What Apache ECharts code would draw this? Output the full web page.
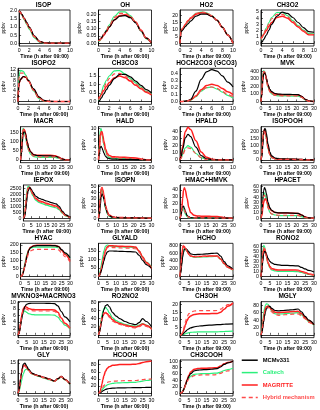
<!DOCTYPE html>
<html>
<head>
<meta charset="utf-8">
<script src="https://cdn.jsdelivr.net/npm/echarts@6/dist/echarts.min.js"></script>
<style>
html, body { margin: 0; padding: 0; background: #fff; }
#chart { width: 320px; height: 410px; }
</style>
</head>
<body>
<div id="chart"></div>
<script>
// time axes (h after 09:00)
const hours10 = [0, 0.2, 0.5, 1, 1.5, 2, 3, 4, 5, 6, 7, 8, 9, 10];
const hours30 = [0, 0.5, 1, 1.5, 2, 2.5, 3, 4, 5, 6, 8, 10, 12, 15, 18, 21, 23, 25, 27, 30];

const seriesNames = ['MCMv331', 'Caltech', 'MAGRITTE', 'Hybrid mechanism'];
const seriesColors = ['#000000', '#2cf07c', '#ff1f1f', '#ff4a4a'];

const panelNames = [
  'ISOP', 'OH', 'HO2', 'CH3O2',
  'ISOPO2', 'CH3CO3', 'HOCH2CO3 (GCO3)', 'MVK',
  'MACR', 'HALD', 'HPALD', 'ISOPOOH',
  'IEPOX', 'ISOPN', 'HMAC+HMVK', 'HPACET',
  'HYAC', 'GLYALD', 'HCHO', 'RONO2',
  'MVKNO3+MACRNO3', 'RO2NO2', 'CH3OH', 'MGLY',
  'GLY', 'HCOOH', 'CH3COOH'
];
const yMax = [2.05, 0.228, 24, 5.3, 12.6, 1.95, 0.48, 440, 185, 10.6, 47, 235, 2800, 52, 47, 63,
  210, 195, 850, 66, 10.3, 82, 22, 90, 16.5, 93, 104];
const yStep = [0.5, 0.05, 5, 1, 2, 0.5, 0.1, 100, 50, 2, 10, 50, 500, 10, 10, 10,
  50, 50, 200, 10, 2, 20, 5, 20, 5, 20, 20];
const yDecimals = [1, 2, 0, 0, 0, 1, 1, 0, 0, 0, 0, 0, 0, 0, 0, 0,
  0, 0, 0, 0, 0, 0, 0, 0, 0, 0, 0];

// each: [MCMv331, Caltech, MAGRITTE, Hybrid]
const isop = [
  [2.0, 1.92, 1.8, 1.55, 1.28, 1.0, 0.45, 0.12, 0.03, 0.01, 0, 0, 0, 0],
  [2.0, 1.9, 1.75, 1.45, 1.15, 0.85, 0.33, 0.07, 0.01, 0, 0, 0, 0, 0],
  [2.0, 1.92, 1.79, 1.52, 1.24, 0.95, 0.42, 0.11, 0.02, 0, 0, 0, 0, 0],
  [2.0, 1.91, 1.78, 1.5, 1.22, 0.93, 0.4, 0.1, 0.02, 0, 0, 0, 0, 0]
];
const oh = [
  [0.02, 0.025, 0.035, 0.06, 0.085, 0.11, 0.16, 0.185, 0.19, 0.175, 0.14, 0.085, 0.035, 0.0],
  [0.01, 0.015, 0.03, 0.06, 0.09, 0.125, 0.185, 0.215, 0.215, 0.19, 0.145, 0.085, 0.03, 0.0],
  [0.015, 0.02, 0.03, 0.055, 0.08, 0.11, 0.16, 0.19, 0.195, 0.18, 0.145, 0.09, 0.035, 0.0],
  [0.015, 0.02, 0.035, 0.06, 0.09, 0.12, 0.175, 0.205, 0.205, 0.185, 0.145, 0.088, 0.033, 0.0]
];
const ho2 = [
  [0, 8, 9.5, 12, 14, 16, 19.5, 21, 21, 19.5, 16.5, 11.5, 6, 0],
  [0, 9, 10.5, 13, 15.5, 18, 21.5, 22.5, 22, 20, 16.5, 11.5, 6, 0],
  [0, 9, 10.5, 13.5, 16, 18, 21, 22, 21.5, 19.5, 16.5, 11.5, 6, 0],
  [0, 9, 10.8, 13.8, 16.5, 18.5, 21.5, 22.5, 22, 20, 16.5, 11.5, 6, 0]
];
const ch3o2 = [
  [0, 0.2, 0.6, 1.3, 2.1, 3.0, 4.3, 4.95, 4.75, 4.1, 3.3, 2.5, 1.85, 1.75],
  [0.5, 0.9, 1.5, 2.4, 3.3, 4.1, 4.9, 4.9, 4.4, 3.6, 2.8, 2.1, 1.55, 1.5],
  [0.8, 1.0, 1.4, 2.0, 2.7, 3.3, 4.1, 4.3, 4.0, 3.3, 2.6, 1.9, 1.35, 1.35],
  [0.6, 0.9, 1.5, 2.3, 3.1, 3.9, 4.6, 4.6, 4.2, 3.5, 2.7, 2.0, 1.4, 1.4]
];
const isopo2 = [
  [0, 7, 8.5, 9.5, 9.3, 8.0, 4.8, 1.8, 0.4, 0.05, 0, 0, 0, 0],
  [0, 10, 11.8, 11.5, 10, 8.0, 4.0, 1.2, 0.2, 0, 0, 0, 0, 0],
  [0, 7, 8.4, 9.4, 9.2, 7.8, 4.6, 1.6, 0.3, 0.05, 0, 0, 0, 0],
  [0, 9, 10.8, 10.8, 9.5, 7.9, 4.2, 1.3, 0.25, 0, 0, 0, 0, 0]
];
const ch3co3 = [
  [0, 0.05, 0.2, 0.45, 0.7, 0.95, 1.35, 1.6, 1.6, 1.45, 1.2, 0.95, 0.7, 0.5],
  [0.05, 0.2, 0.5, 0.95, 1.25, 1.5, 1.8, 1.82, 1.62, 1.35, 1.1, 0.85, 0.6, 0.45],
  [0.2, 0.25, 0.4, 0.65, 0.88, 1.1, 1.4, 1.5, 1.4, 1.2, 0.95, 0.75, 0.55, 0.38],
  [0.1, 0.2, 0.45, 0.8, 1.1, 1.35, 1.62, 1.65, 1.5, 1.28, 1.02, 0.8, 0.58, 0.42]
];
const gco3 = [
  [0, 0, 0, 0.005, 0.012, 0.03, 0.15, 0.32, 0.43, 0.46, 0.44, 0.37, 0.28, 0.21],
  [0, 0, 0, 0.003, 0.008, 0.02, 0.07, 0.15, 0.2, 0.21, 0.18, 0.135, 0.09, 0.05],
  [0, 0, 0, 0.004, 0.01, 0.025, 0.08, 0.17, 0.23, 0.25, 0.23, 0.19, 0.14, 0.1],
  [0, 0, 0, 0.004, 0.01, 0.025, 0.08, 0.155, 0.2, 0.21, 0.19, 0.145, 0.1, 0.07]
];
const mvk = [
  [0, 100, 280, 370, 385, 360, 310, 220, 160, 130, 105, 98, 96, 95, 93, 90, 70, 30, 8, 0],
  [0, 150, 350, 410, 400, 350, 290, 190, 130, 100, 80, 75, 74, 73, 72, 70, 55, 22, 5, 0],
  [0, 110, 300, 385, 390, 360, 305, 210, 150, 120, 98, 92, 90, 90, 89, 87, 68, 28, 7, 0],
  [0, 130, 330, 400, 390, 345, 285, 185, 128, 100, 82, 77, 76, 75, 74, 72, 56, 22, 5, 0]
];
const macr = [
  [0, 30, 90, 140, 160, 158, 145, 100, 65, 45, 28, 24, 23, 22, 22, 20, 14, 5, 1, 0],
  [0, 60, 140, 175, 170, 150, 125, 80, 50, 32, 18, 15, 14, 14, 14, 13, 9, 3, 0.5, 0],
  [0, 40, 110, 160, 170, 165, 150, 100, 65, 45, 29, 26, 25, 25, 25, 23, 16, 6, 1, 0],
  [0, 50, 125, 165, 165, 150, 128, 82, 52, 35, 21, 18, 17, 17, 17, 16, 11, 4, 0.5, 0]
];
const hald = [
  [0, 2, 4, 4.3, 3.8, 3, 2.2, 1.1, 0.6, 0.4, 0.25, 0.2, 0.18, 0.15, 0.12, 0.1, 0.06, 0.02, 0, 0],
  [0, 5, 9.5, 10, 8.5, 6.5, 4.8, 2.5, 1.3, 0.8, 0.5, 0.4, 0.35, 0.3, 0.28, 0.25, 0.15, 0.05, 0, 0],
  [0, 3.5, 7.5, 9, 9, 7.8, 6, 3.5, 2.0, 1.4, 1.0, 0.9, 0.85, 0.8, 0.7, 0.6, 0.4, 0.15, 0.03, 0],
  [0, 4, 8, 8.8, 8, 6.5, 5, 2.8, 1.6, 1.1, 0.75, 0.65, 0.6, 0.55, 0.5, 0.45, 0.3, 0.1, 0.02, 0]
];
const hpald = [
  [0, 4, 15, 31, 36, 33, 18, 6, 1.5, 0.3, 0, 0, 0, 0],
  [0, 2, 8, 17, 20, 18, 9, 3, 0.7, 0.1, 0, 0, 0, 0],
  [0, 5, 19, 40, 46, 43, 27, 11, 3.5, 1, 0.2, 0, 0, 0],
  [0, 2, 7, 14, 17, 16, 9, 3, 0.7, 0.1, 0, 0, 0, 0]
];
const isopooh = [
  [0, 20, 100, 180, 222, 220, 190, 110, 55, 28, 12, 8, 7, 6, 5, 4, 3, 1, 0, 0],
  [0, 40, 150, 205, 210, 185, 150, 75, 35, 16, 6, 4, 3, 3, 3, 2, 1.5, 0.5, 0, 0],
  [0, 30, 130, 200, 215, 200, 165, 90, 42, 20, 8, 5, 4, 4, 3.5, 3, 2, 0.5, 0, 0],
  [0, 35, 140, 195, 200, 180, 148, 75, 35, 16, 6, 4, 3, 3, 3, 2, 1.5, 0.5, 0, 0]
];
const iepox = [
  [0, 50, 250, 700, 1300, 1900, 2300, 2600, 2450, 2200, 1850, 1680, 1580, 1450, 1320, 1200, 1000, 600, 300, 60],
  [0, 120, 600, 1400, 2100, 2500, 2700, 2550, 2200, 1900, 1500, 1330, 1230, 1100, 980, 880, 720, 420, 200, 40],
  [0, 80, 400, 1000, 1700, 2200, 2500, 2600, 2350, 2050, 1650, 1480, 1380, 1250, 1130, 1020, 850, 500, 250, 50],
  [0, 100, 480, 1150, 1850, 2300, 2550, 2600, 2300, 2000, 1600, 1420, 1320, 1190, 1070, 960, 800, 470, 230, 45]
];
const isopn = [
  [0, 5, 20, 33, 38, 36, 30, 17, 8, 4, 1.5, 0.8, 0.6, 0.5, 0.4, 0.3, 0.2, 0.1, 0, 0],
  [0, 10, 33, 45, 44, 38, 30, 15, 7, 3, 1, 0.5, 0.4, 0.3, 0.3, 0.2, 0.1, 0.05, 0, 0],
  [0, 8, 30, 45, 48, 44, 37, 20, 10, 5, 2, 1.2, 1, 0.8, 0.7, 0.6, 0.4, 0.15, 0, 0],
  [0, 10, 33, 46, 47, 42, 34, 18, 8.5, 4, 1.5, 0.8, 0.6, 0.5, 0.4, 0.3, 0.2, 0.1, 0, 0]
];
const hmac = [
  [0, 3, 10, 16, 17, 14, 10, 4, 1.5, 0.8, 0.4, 0.3, 0.3, 0.3, 0.2, 0.2, 0.1, 0.05, 0, 0],
  [0, 5, 12, 15, 13, 9, 6, 2, 0.8, 0.4, 0.2, 0.2, 0.2, 0.2, 0.2, 0.1, 0.1, 0, 0, 0],
  [0, 3, 12, 28, 40, 43, 40, 28, 15, 8, 4, 3, 2.8, 2.6, 2.5, 2.4, 1.8, 0.8, 0.2, 0],
  [0, 4, 11, 15, 15, 12, 8, 3, 1.2, 0.6, 0.3, 0.3, 0.3, 0.3, 0.2, 0.2, 0.1, 0.05, 0, 0]
];
const hpacet = [
  [0, 10, 35, 52, 58, 55, 47, 30, 20, 15, 11, 10, 10, 10, 9.5, 9, 6, 2, 0.5, 0],
  [0, 12, 35, 46, 48, 43, 36, 20, 11, 8, 6, 5, 5, 5, 5, 4.8, 3, 1, 0.2, 0],
  [0, 5, 18, 30, 36, 37, 34, 25, 18, 14, 11, 10, 10, 10, 9.5, 9, 6, 2, 0.5, 0],
  [0, 10, 30, 41, 44, 40, 33, 19, 11, 8, 6, 5.5, 5.5, 5.5, 5.4, 5.2, 3.5, 1.2, 0.3, 0]
];
const hyac = [
  [0, 2, 8, 20, 38, 60, 85, 130, 165, 182, 193, 195, 195, 195, 195, 195, 190, 170, 150, 120],
  [0, 3, 12, 28, 50, 75, 100, 145, 170, 180, 185, 186, 186, 186, 186, 186, 182, 165, 145, 115],
  [0, 2, 9, 22, 42, 65, 90, 135, 170, 185, 195, 197, 197, 197, 197, 196, 190, 165, 140, 100],
  [0, 2, 9, 22, 40, 60, 82, 122, 150, 162, 170, 172, 172, 172, 172, 172, 168, 148, 125, 92]
];
const glyald = [
  [0, 5, 15, 30, 50, 70, 90, 125, 145, 150, 150, 149, 148, 147, 146, 144, 125, 95, 70, 48],
  [0, 10, 35, 65, 95, 125, 150, 178, 185, 182, 177, 175, 174, 173, 172, 170, 150, 115, 85, 55],
  [0, 6, 20, 40, 65, 90, 115, 155, 175, 180, 180, 179, 178, 177, 176, 173, 150, 115, 82, 50],
  [0, 7, 22, 45, 70, 95, 120, 155, 170, 172, 170, 169, 168, 167, 166, 163, 142, 108, 78, 48]
];
const hcho = [
  [0, 100, 300, 500, 620, 690, 715, 690, 630, 580, 560, 565, 570, 580, 590, 600, 520, 380, 270, 180],
  [0, 150, 400, 600, 690, 700, 690, 640, 570, 520, 495, 495, 500, 505, 510, 515, 440, 320, 230, 160],
  [0, 200, 500, 720, 780, 760, 720, 650, 570, 525, 505, 510, 515, 520, 525, 525, 450, 330, 240, 170],
  [0, 220, 550, 780, 800, 770, 730, 650, 575, 530, 510, 512, 515, 520, 525, 527, 450, 330, 240, 170]
];
const rono2 = [
  [0, 10, 30, 45, 50, 49, 45, 36, 30, 27, 24, 23, 22, 22, 21.5, 21, 18, 15, 12, 9],
  [0, 20, 50, 62, 60, 50, 40, 25, 17, 13, 11, 10, 10, 10, 10, 9.5, 8, 6, 4, 2],
  [0, 15, 40, 53, 55, 50, 42, 28, 20, 16, 14, 13, 13, 13, 13, 12.5, 10, 8, 5, 3],
  [0, 17, 45, 57, 56, 48, 40, 26, 18, 14.5, 12.5, 12, 12, 12, 12, 11.5, 9.5, 7, 4.5, 2.5]
];
const mvkno3 = [
  [0, 0.3, 1.2, 2.8, 4.5, 6, 7.2, 8.8, 9.5, 9.7, 9.8, 9.8, 9.8, 9.8, 9.75, 9.7, 9.0, 7.2, 5.6, 4.0],
  [0, 0.5, 1.8, 3.5, 5.0, 6.2, 7.0, 7.4, 7.0, 6.6, 6.3, 6.2, 6.2, 6.2, 6.2, 6.1, 5.5, 4.2, 3.0, 1.8],
  [0, 0.4, 1.6, 3.5, 5.5, 7.0, 8.0, 8.8, 8.6, 8.2, 7.9, 7.8, 7.8, 7.8, 7.8, 7.7, 7.0, 5.2, 3.6, 2.0],
  [0, 0.5, 1.8, 3.6, 5.4, 6.7, 7.6, 8.2, 8.0, 7.7, 7.5, 7.4, 7.4, 7.4, 7.4, 7.3, 6.6, 5.0, 3.4, 1.9]
];
const ro2no2 = [
  [0, 5, 15, 28, 40, 52, 62, 72, 75, 70, 55, 46, 40, 33, 28, 25, 30, 40, 33, 20],
  [0, 8, 22, 38, 50, 58, 64, 68, 63, 55, 42, 35, 31, 26, 23, 21, 24, 28, 24, 15],
  [0, 6, 18, 30, 40, 47, 52, 55, 52, 47, 37, 31, 28, 24, 21, 19, 22, 27, 23, 15],
  [0, 7, 20, 33, 43, 50, 54, 55, 50, 44, 34, 29, 26, 22, 19, 17, 20, 25, 21, 13]
];
const ch3oh = [
  [0, 0, 0.1, 0.4, 0.9, 1.5, 2.1, 3.2, 4.0, 4.6, 5.3, 5.7, 6.0, 6.3, 6.5, 6.7, 6.8, 7.0, 7.1, 7.2],
  [0, 0, 0.05, 0.15, 0.3, 0.5, 0.7, 1.1, 1.4, 1.6, 1.8, 1.9, 1.9, 2.0, 2.0, 2.0, 2.1, 2.2, 2.3, 2.4],
  [0, 0, 0.3, 1.2, 2.7, 4.5, 6.5, 9.5, 11.5, 12.5, 13.5, 13.8, 14, 14, 14.1, 14.2, 15, 17, 19, 21],
  [0, 0, 0.4, 1.5, 3.5, 6, 8.5, 12, 14, 15, 15.8, 16, 16, 16, 16, 16.2, 17, 18.5, 20, 21]
];
const mgly = [
  [0, 5, 18, 35, 50, 62, 70, 77, 77, 72, 66, 65, 66, 67, 68, 70, 62, 50, 40, 28],
  [0, 12, 35, 58, 72, 80, 84, 83, 75, 65, 57, 56, 57, 58, 59, 60, 54, 45, 36, 26],
  [0, 8, 25, 45, 60, 70, 76, 78, 74, 68, 61, 60, 61, 62, 63, 64, 57, 47, 38, 27],
  [0, 8, 26, 46, 61, 70, 75, 76, 70, 62, 55, 53, 54, 55, 56, 57, 51, 43, 34, 25]
];
const gly = [
  [0, 1, 3.5, 7, 10, 12.5, 14.3, 15, 13.5, 12, 10, 9.2, 8.6, 7.8, 7, 6, 7.2, 8.3, 6.8, 4.5],
  [0, 0.5, 2, 4, 6, 8, 9.5, 11.5, 12, 11.3, 9.6, 8.9, 8.3, 7.5, 6.7, 5.8, 6.9, 8.0, 6.6, 4.3],
  [0, 1, 3.5, 7, 10, 12.2, 13.5, 14, 12.8, 11.5, 9.8, 9.1, 8.6, 7.8, 7, 6, 7.2, 8.3, 6.8, 4.5],
  [0, 1, 3.5, 7, 9.8, 12, 13.2, 13.5, 12.5, 11.3, 9.7, 9.0, 8.5, 7.7, 6.9, 5.9, 7.1, 8.2, 6.7, 4.4]
];
const hcooh = [
  [0, 0.3, 1.2, 2.8, 4.6, 6.5, 8, 10.5, 12, 13, 14, 14.5, 14.8, 15, 15.2, 15.4, 15.5, 15.8, 16, 16.2],
  [0, 0.5, 2.5, 5.5, 9, 12.5, 15.5, 20, 23, 25, 27.5, 28.5, 29, 29.5, 30, 30.5, 32, 34, 35.5, 37],
  [0, 1, 6, 15, 27, 38, 48, 62, 70, 74, 78, 79, 80, 80, 80.5, 81, 83, 86, 88, 90],
  [0, 0.7, 3, 7, 12, 17, 21, 27, 30, 32, 33.5, 34, 34.5, 35, 35, 35.5, 36.5, 38, 39, 40]
];
const ch3cooh = [
  [0, 0.5, 2, 5, 10, 17, 25, 40, 52, 61, 70, 72, 73, 74, 75, 77, 82, 90, 95, 100],
  [0, 0.5, 2, 5, 10, 17, 25, 38, 47, 53, 59, 60, 61, 61, 62, 63, 66, 71, 74, 78],
  [0, 0.5, 2, 5, 10, 17, 26, 42, 56, 66, 75, 77, 78, 78, 79, 80, 85, 92, 96, 100],
  [0, 0.5, 2, 5, 10, 16, 24, 36, 45, 50, 55, 56, 57, 57, 57, 58, 62, 67, 70, 73]
];

const panelData = [
  isop, oh, ho2, ch3o2,
  isopo2, ch3co3, gco3, mvk,
  macr, hald, hpald, isopooh,
  iepox, isopn, hmac, hpacet,
  hyac, glyald, hcho, rono2,
  mvkno3, ro2no2, ch3oh, mgly,
  gly, hcooh, ch3cooh
];

const colLeft = [17, 98.5, 180, 261];
const boxW = 53, boxH = 36, rowTop0 = 10, rowPitch = 58.33;
const font = 'Liberation Sans';

const grids = [], xAxes = [], yAxes = [], titles = [], series = [];

panelNames.forEach((name, i) => {
  const col = i % 4, row = Math.floor(i / 4);
  const left = colLeft[col], top = rowTop0 + row * rowPitch;
  const data = panelData[i];
  const hours = data[0].length === hours10.length ? hours10 : hours30;
  const span = hours[hours.length - 1];

  grids.push({ left: left, top: top, width: boxW, height: boxH, show: true,
    borderColor: '#000', borderWidth: 0.8, containLabel: false });

  titles.push({ text: name, left: left + boxW / 2, top: top - 8.5, textAlign: 'center',
    padding: 0,
    textStyle: { fontSize: 6.5, fontWeight: 'bold', fontFamily: font, color: '#000' } });

  xAxes.push({
    type: 'value', gridIndex: i, min: 0, max: span, interval: span === 10 ? 2 : 5,
    axisLine: { lineStyle: { color: '#000', width: 0.8 } },
    axisTick: { inside: true, length: 2, lineStyle: { color: '#000', width: 0.6 } },
    axisLabel: { fontSize: 5.2, margin: 2, color: '#000', fontFamily: font },
    splitLine: { show: false },
    name: 'Time (h after 09:00)', nameLocation: 'middle', nameGap: 8,
    nameTextStyle: { fontSize: 5.3, fontWeight: 'bold', fontFamily: font, color: '#000' }
  });

  const ticks = [];
  for (let v = 0; v <= yMax[i] + 1e-9; v += yStep[i]) ticks.push(+v.toFixed(4));
  const dec = yDecimals[i];
  yAxes.push({
    type: 'value', gridIndex: i, min: -0.085 * yMax[i], max: yMax[i],
    axisLine: { lineStyle: { color: '#000', width: 0.8 } },
    axisTick: { inside: true, length: 2, customValues: ticks, lineStyle: { color: '#000', width: 0.6 } },
    axisLabel: { fontSize: 5.2, margin: 2, color: '#000', fontFamily: font, customValues: ticks,
      formatter: v => Number(v).toFixed(dec) },
    splitLine: { show: false },
    name: 'ppbv', nameLocation: 'middle', nameGap: 12,
    nameTextStyle: { fontSize: 5, fontFamily: font, color: '#000' }
  });

  data.forEach((vals, k) => {
    series.push({
      name: seriesNames[k], type: 'line', xAxisIndex: i, yAxisIndex: i,
      data: hours.map((t, j) => [t, vals[j]]),
      smooth: 0.35, smoothMonotone: 'x', showSymbol: false, symbol: 'none',
      clip: true, silent: true, animation: false,
      z: k === 0 ? 5 : 2 + k,
      lineStyle: { color: seriesColors[k], width: k === 2 ? 1.5 : 1.2,
        type: k === 3 ? [4, 3] : 'solid' },
      itemStyle: { color: seriesColors[k] }
    });
  });
});

const chart = echarts.init(document.getElementById('chart'));
chart.setOption({
  animation: false,
  title: titles,
  grid: grids,
  xAxis: xAxes,
  yAxis: yAxes,
  legend: {
    orient: 'vertical', left: 241, top: 357, padding: 0,
    itemWidth: 16, itemHeight: 8, itemGap: 6,
    selectedMode: false,
    itemStyle: { opacity: 0 },
    lineStyle: { width: 1.5 },
    data: seriesNames.map((n, k) => ({ name: n, textStyle: { color: seriesColors[k] } })),
    textStyle: { fontSize: 5.8, fontWeight: 'bold', fontFamily: font }
  },
  series: series
});
</script>
</body>
</html>
